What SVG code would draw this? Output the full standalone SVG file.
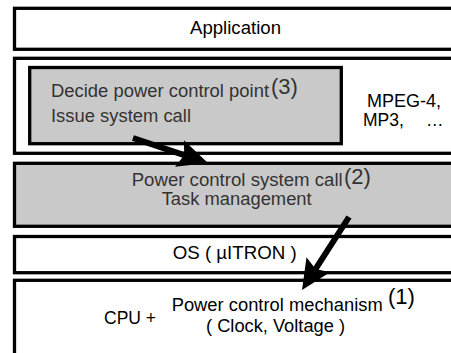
<svg xmlns="http://www.w3.org/2000/svg" width="451" height="353" viewBox="0 0 451 353">
  <style>
    .layer { stroke: #000; stroke-width: 3.3; fill: #fff; }
    .gray { fill: #c9c9c9; }
    .t { font-family: "Liberation Sans", Arial, sans-serif; font-size: 17.5px; fill: #000; }
    .dk { fill: #333; }
    .num { font-size: 22px; }
    .arrow { stroke: #000; stroke-width: 6; fill: none; marker-end: url(#head); }
  </style>
  <defs>
    <marker id="head" markerUnits="userSpaceOnUse" viewBox="0 -15 32 30" markerWidth="32" markerHeight="30" refX="9" refY="0" orient="auto">
      <path d="M0,-14 L30,0 L0,14 L5,0 Z" fill="#000"/>
    </marker>
  </defs>
  <rect width="451" height="353" fill="#fff"/>

  <g id="application">
    <rect class="layer" x="14.5" y="8.3" width="460" height="41"/>
    <text class="t" x="235.5" y="34" text-anchor="middle" textLength="91" lengthAdjust="spacingAndGlyphs">Application</text>
  </g>

  <g id="app-layer">
    <rect class="layer" x="14.5" y="58.3" width="460" height="95"/>
    <text class="t" x="367" y="107" textLength="74" lengthAdjust="spacingAndGlyphs">MPEG-4,</text>
    <text class="t" x="363" y="126">MP3,<tspan x="426">…</tspan></text>
  </g>

  <g id="decide-point">
    <rect class="layer gray" x="29.7" y="67.5" width="311.6" height="76.2" stroke-width="4"/>
    <text class="t dk" x="51" y="97" textLength="218" lengthAdjust="spacingAndGlyphs">Decide power control point</text>
    <text class="t dk num" x="271" y="94">(3)</text>
    <text class="t dk" x="51" y="122" textLength="140" lengthAdjust="spacingAndGlyphs">Issue system call</text>
  </g>

  <g id="system-call">
    <rect class="layer gray" x="14.5" y="163.3" width="460" height="63"/>
    <text class="t dk" x="131.7" y="186" textLength="211" lengthAdjust="spacingAndGlyphs">Power control system call</text>
    <text class="t dk num" x="344" y="184">(2)</text>
    <text class="t dk" x="161.7" y="205" textLength="150" lengthAdjust="spacingAndGlyphs">Task management</text>
  </g>

  <g id="os">
    <rect class="layer" x="14.5" y="236.5" width="460" height="36.2"/>
    <text class="t" x="172.7" y="259" textLength="124" lengthAdjust="spacingAndGlyphs">OS ( µITRON )</text>
  </g>

  <g id="cpu">
    <rect class="layer" x="14.5" y="280.3" width="460" height="100"/>
    <text class="t" x="104" y="324" textLength="52" lengthAdjust="spacingAndGlyphs">CPU +</text>
    <text class="t" x="171.7" y="311" textLength="211" lengthAdjust="spacingAndGlyphs">Power control mechanism</text>
    <text class="t num" x="388" y="304">(1)</text>
    <text class="t" x="206" y="332" textLength="139" lengthAdjust="spacingAndGlyphs">( Clock, Voltage )</text>
  </g>

  <g id="connectors">
    <line class="arrow" x1="133" y1="138" x2="188" y2="156.4"/>
    <line class="arrow" x1="349" y1="217" x2="313.4" y2="272.3"/>
  </g>
</svg>
